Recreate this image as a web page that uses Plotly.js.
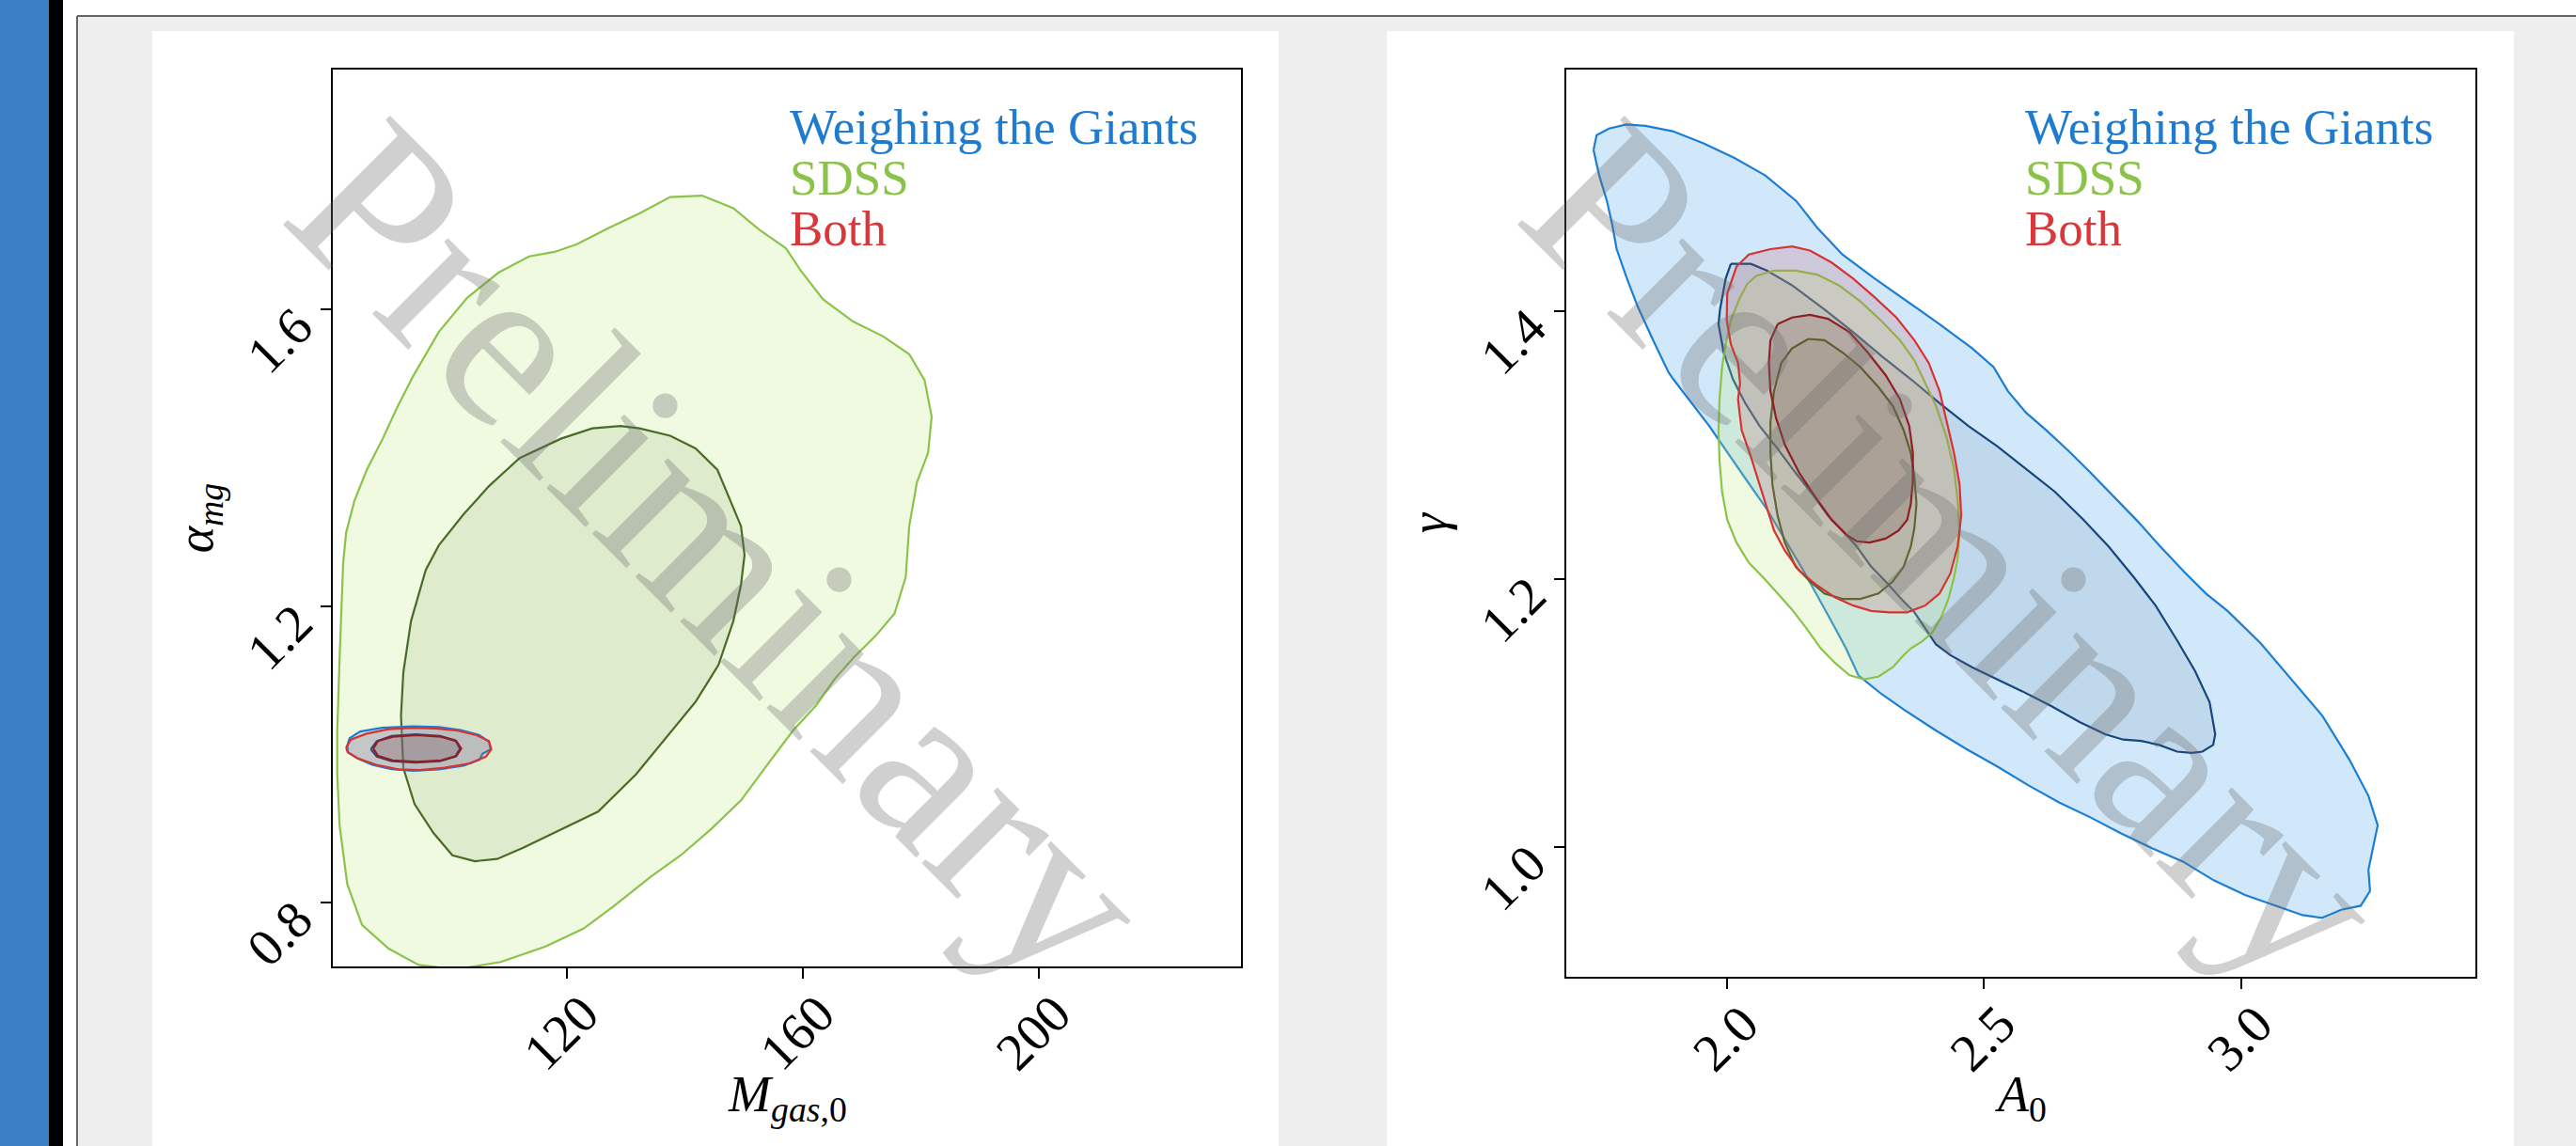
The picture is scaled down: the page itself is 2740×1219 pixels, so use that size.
<!DOCTYPE html>
<html><head><meta charset="utf-8">
<script src="https://cdn.plot.ly/plotly-3.0.1.min.js"></script>
<style>html,body{margin:0;padding:0;background:#fff;overflow:hidden}#chart{width:2740px;height:1219px}</style>
</head><body><div id="chart"></div>
<script>
// ---------------- LEFT PANEL: M_gas,0 vs alpha_mg ----------------
const sdssOuterMgas  = [81.1,81.1,81.5,82.0,82.1,82.6,84.0,86.1,88.8,91.3,94.0,98.3,103.1,108.4,113.6,117.9,121.6,127.0,132.3,137.5,142.9,148.2,152.6,157.1,159.6,163.4,168.5,173.6,178.0,180.6,181.8,181.2,179.3,178.0,177.4,175.5,172.3,168.5,165.3,162.2,158.3,154.5,149.5,144.4,139.3,134.2,127.9,122.8,116.4,108.8,101.2,94.9,89.8,85.3,82.8,81.5,81.1];
const sdssOuterAlpha = [0.973,1.032,1.130,1.229,1.258,1.299,1.342,1.384,1.426,1.469,1.511,1.570,1.616,1.650,1.672,1.678,1.688,1.710,1.730,1.752,1.754,1.737,1.708,1.683,1.653,1.614,1.584,1.564,1.540,1.505,1.456,1.407,1.367,1.308,1.239,1.190,1.160,1.130,1.101,1.066,1.032,0.992,0.938,0.899,0.864,0.835,0.795,0.765,0.741,0.720,0.710,0.716,0.738,0.770,0.825,0.904,0.973];
const sdssInnerMgas  = [91.9,92.3,93.6,96.1,98.3,102.5,106.8,112.0,119.0,124.3,129.1,132.3,137.5,141.8,145.5,146.9,149.5,150.1,149.5,148.2,145.7,141.8,136.8,131.7,125.3,119.0,112.6,108.2,104.4,100.6,97.4,94.2,92.3,91.9];
const sdssInnerAlpha = [1.052,1.111,1.180,1.249,1.282,1.324,1.362,1.400,1.426,1.440,1.443,1.440,1.430,1.413,1.384,1.357,1.308,1.269,1.229,1.180,1.121,1.071,1.022,0.973,0.923,0.899,0.874,0.859,0.856,0.864,0.894,0.933,0.982,1.052];
const wtgOuterMgas   = [82.8,83.2,85.0,88.7,94.0,98.3,102.0,105.2,106.8,107.1,105.7,105.2,102.5,98.3,94.0,90.3,87.0,84.5,82.9,82.8];
const wtgOuterAlpha  = [1.012,1.022,1.031,1.036,1.038,1.037,1.033,1.026,1.017,1.007,1.001,0.993,0.985,0.980,0.978,0.980,0.986,0.995,1.003,1.012];
const wtgInnerMgas   = [86.8,87.8,90.3,94.4,98.5,101.1,101.9,101.1,98.5,94.4,90.3,87.8,86.8];
const wtgInnerAlpha  = [1.007,1.018,1.025,1.027,1.025,1.019,1.008,0.997,0.991,0.989,0.991,0.997,1.007];
const bothOuterMgas  = [82.6,83.4,86.1,89.8,94.0,97.8,101.5,104.7,106.8,107.2,106.3,103.6,99.3,95.1,91.4,87.7,84.5,82.9,82.6];
const bothOuterAlpha = [1.009,1.020,1.028,1.034,1.036,1.035,1.032,1.026,1.018,1.007,0.997,0.988,0.982,0.979,0.980,0.986,0.995,1.003,1.009];
const bothInnerMgas  = [87.2,88.0,90.5,94.6,98.7,101.3,102.1,101.3,98.7,94.6,90.5,88.0,87.2];
const bothInnerAlpha = [1.008,1.018,1.024,1.026,1.024,1.018,1.008,0.998,0.992,0.990,0.992,0.998,1.008];

// ---------------- RIGHT PANEL: A_0 vs gamma ----------------
const wtgOuterA0    = [1.741,1.747,1.771,1.805,1.842,1.895,1.955,2.015,2.075,2.135,2.176,2.225,2.288,2.351,2.414,2.477,2.519,2.547,2.582,2.624,2.666,2.708,2.757,2.799,2.841,2.890,2.932,2.974,3.038,3.098,3.158,3.211,3.248,3.266,3.256,3.248,3.251,3.233,3.195,3.158,3.120,3.068,3.008,2.947,2.887,2.827,2.767,2.707,2.647,2.586,2.526,2.466,2.406,2.346,2.301,2.256,2.232,2.204,2.176,2.148,2.106,2.078,2.036,1.966,1.896,1.887,1.857,1.827,1.805,1.786,1.777,1.767,1.752,1.741];
const wtgOuterGamma = [1.520,1.531,1.536,1.539,1.538,1.534,1.525,1.514,1.501,1.482,1.462,1.442,1.424,1.407,1.390,1.372,1.358,1.340,1.324,1.310,1.295,1.279,1.260,1.243,1.225,1.205,1.189,1.176,1.152,1.125,1.098,1.065,1.038,1.016,0.997,0.983,0.967,0.956,0.953,0.947,0.949,0.956,0.964,0.975,0.989,0.999,1.010,1.022,1.033,1.046,1.060,1.073,1.087,1.102,1.114,1.128,1.148,1.168,1.188,1.207,1.234,1.252,1.275,1.314,1.349,1.354,1.378,1.403,1.425,1.446,1.465,1.482,1.501,1.520];
const wtgInnerA0    = [2.008,2.047,2.078,2.127,2.190,2.246,2.302,2.358,2.414,2.470,2.526,2.582,2.638,2.694,2.743,2.792,2.834,2.876,2.911,2.939,2.950,2.946,2.925,2.904,2.876,2.841,2.806,2.771,2.736,2.687,2.631,2.575,2.526,2.477,2.435,2.407,2.386,2.365,2.337,2.309,2.281,2.253,2.225,2.197,2.169,2.134,2.099,2.064,2.036,2.012,1.994,1.984,1.987,1.998,2.008];
const wtgInnerGamma = [1.435,1.435,1.430,1.419,1.401,1.384,1.366,1.349,1.331,1.314,1.299,1.282,1.265,1.244,1.224,1.201,1.180,1.154,1.131,1.108,1.084,1.076,1.071,1.070,1.071,1.076,1.079,1.080,1.084,1.093,1.105,1.116,1.125,1.134,1.143,1.151,1.163,1.175,1.186,1.198,1.209,1.224,1.236,1.247,1.262,1.279,1.297,1.314,1.331,1.349,1.369,1.390,1.401,1.424,1.435];
const sdssOuterA0    = [2.057,2.092,2.134,2.176,2.218,2.260,2.302,2.337,2.365,2.386,2.407,2.428,2.442,2.449,2.453,2.449,2.442,2.432,2.418,2.400,2.379,2.358,2.344,2.323,2.295,2.267,2.239,2.211,2.183,2.155,2.127,2.099,2.071,2.043,2.019,2.001,1.991,1.986,1.984,1.986,1.991,1.998,2.008,2.026,2.040,2.057];
const sdssOuterGamma = [1.426,1.430,1.430,1.427,1.419,1.407,1.392,1.378,1.363,1.346,1.329,1.305,1.282,1.259,1.236,1.215,1.201,1.186,1.172,1.160,1.153,1.148,1.143,1.134,1.127,1.125,1.128,1.137,1.148,1.163,1.177,1.189,1.201,1.212,1.227,1.244,1.265,1.288,1.311,1.334,1.358,1.375,1.393,1.410,1.420,1.426];
const sdssInnerA0    = [2.159,2.190,2.225,2.260,2.295,2.323,2.344,2.358,2.365,2.369,2.365,2.358,2.344,2.323,2.295,2.260,2.225,2.190,2.162,2.134,2.113,2.099,2.089,2.085,2.085,2.092,2.106,2.127,2.159];
const sdssInnerGamma = [1.379,1.378,1.369,1.358,1.343,1.329,1.311,1.294,1.276,1.256,1.238,1.224,1.209,1.198,1.189,1.185,1.185,1.189,1.198,1.209,1.227,1.247,1.270,1.294,1.317,1.340,1.361,1.372,1.379];
const bothOuterA0    = [2.001,2.019,2.043,2.085,2.127,2.162,2.204,2.246,2.288,2.330,2.365,2.393,2.414,2.428,2.442,2.453,2.456,2.449,2.435,2.414,2.386,2.351,2.316,2.281,2.246,2.211,2.176,2.141,2.113,2.092,2.078,2.064,2.047,2.029,2.022,2.026,2.022,2.008,2.000,2.001];
const bothOuterGamma = [1.413,1.433,1.442,1.446,1.448,1.445,1.436,1.424,1.410,1.395,1.378,1.361,1.340,1.317,1.294,1.270,1.247,1.224,1.204,1.189,1.180,1.175,1.175,1.176,1.180,1.186,1.195,1.206,1.221,1.236,1.253,1.270,1.291,1.311,1.334,1.346,1.361,1.375,1.393,1.413];
const bothInnerA0    = [2.099,2.127,2.162,2.197,2.239,2.274,2.309,2.337,2.355,2.362,2.362,2.358,2.351,2.334,2.309,2.278,2.253,2.232,2.204,2.176,2.141,2.113,2.096,2.085,2.082,2.085,2.099];
const bothInnerGamma = [1.390,1.395,1.397,1.394,1.384,1.369,1.352,1.334,1.314,1.294,1.273,1.256,1.244,1.236,1.230,1.227,1.228,1.233,1.244,1.259,1.279,1.300,1.320,1.340,1.361,1.378,1.390];

// ---------------- ticks / labels ----------------
const mgasTicks  = [120, 160, 200];
const alphaTicks = [0.8, 1.2, 1.6];
const a0Ticks    = [2.0, 2.5, 3.0];
const gammaTicks = [1.0, 1.2, 1.4];
const seriesNames = ['Weighing the Giants', 'SDSS', 'Both'];
const xTitles = ['<i>M</i><sub><i>gas</i>,0</sub>', '<i>A</i><sub>0</sub>'];

// ---------------- styles ----------------
const C = {
  wtgLine:'#1b7ed4', wtgInLine:'#16457f', wtgFill:'rgba(100,180,240,0.30)', wtgInFill:'rgba(60,80,110,0.10)',
  sdssLine:'#8bc34a', sdssInLine:'#4a6b28', sdssFill:'rgba(190,235,130,0.25)', sdssInFill:'rgba(74,107,40,0.10)',
  bothLine:'#d63333', bothInLine:'#8f1f25', bothFill:'rgba(200,80,90,0.20)', bothInFill:'rgba(110,40,40,0.15)'
};
const legendColors = ['#1f7bd0', '#8bc34a', '#d9373a'];
const SERIF = 'Liberation Serif, Times New Roman, serif';

function contour(x, y, xa, ya, line, fill) {
  return {type:'scatter', mode:'lines', x:x, y:y, xaxis:xa, yaxis:ya, fill:'toself',
          fillcolor:fill, line:{color:line, width:2.2}, hoverinfo:'skip', showlegend:false};
}

const traces = [
  contour(sdssOuterMgas, sdssOuterAlpha, 'x', 'y', C.sdssLine, C.sdssFill),
  contour(sdssInnerMgas, sdssInnerAlpha, 'x', 'y', C.sdssInLine, C.sdssInFill),
  contour(wtgOuterMgas, wtgOuterAlpha, 'x', 'y', C.wtgLine, C.wtgFill),
  contour(wtgInnerMgas, wtgInnerAlpha, 'x', 'y', C.wtgInLine, C.wtgInFill),
  contour(bothOuterMgas, bothOuterAlpha, 'x', 'y', C.bothLine, C.bothFill),
  contour(bothInnerMgas, bothInnerAlpha, 'x', 'y', C.bothInLine, C.bothInFill),

  contour(wtgOuterA0, wtgOuterGamma, 'x2', 'y2', C.wtgLine, C.wtgFill),
  contour(wtgInnerA0, wtgInnerGamma, 'x2', 'y2', C.wtgInLine, C.wtgInFill),
  contour(sdssOuterA0, sdssOuterGamma, 'x2', 'y2', C.sdssLine, C.sdssFill),
  contour(sdssInnerA0, sdssInnerGamma, 'x2', 'y2', C.sdssInLine, C.sdssInFill),
  contour(bothOuterA0, bothOuterGamma, 'x2', 'y2', C.bothLine, C.bothFill),
  contour(bothInnerA0, bothInnerGamma, 'x2', 'y2', C.bothInLine, C.bothInFill)
];

const W = 2740, H = 1219;
const px = v => v / W, py = v => 1 - v / H;

function axisStyle(extra) {
  return Object.assign({
    showline:true, linecolor:'#000', linewidth:2, mirror:true,
    ticks:'outside', ticklen:11, tickwidth:2, tickcolor:'#000',
    showgrid:false, zeroline:false, tickangle:-45,
    tickfont:{family:SERIF, size:56, color:'#000'}, fixedrange:true
  }, extra);
}
const xTickStyle = {ticklabelshift:17, ticklabelstandoff:-18};
const yTickStyle = {ticklabelshift:10, ticklabelstandoff:14};

const layout = {
  width:W, height:H, margin:{l:0, r:0, t:0, b:0},
  paper_bgcolor:'#ffffff', plot_bgcolor:'#ffffff', showlegend:false, hovermode:false,
  xaxis: axisStyle(Object.assign({domain:[px(354), px(1320)], range:[80.35, 234.2], anchor:'y', tickvals:mgasTicks}, xTickStyle)),
  yaxis: axisStyle(Object.assign({domain:[py(1028), py(74)], range:[0.714, 1.924], anchor:'x', tickvals:alphaTicks, tickformat:'.1f',
    title:{text:'<i>α</i><sub><i>mg</i></sub>', font:{family:SERIF, size:54, color:'#000'}, standoff:7}}, yTickStyle)),
  xaxis2: axisStyle(Object.assign({domain:[px(1666), px(2633)], range:[1.688, 3.456], anchor:'y2', tickvals:a0Ticks, tickformat:'.1f'}, xTickStyle)),
  yaxis2: axisStyle(Object.assign({domain:[py(1039), py(74)], range:[0.903, 1.580], anchor:'x2', tickvals:gammaTicks, tickformat:'.1f',
    title:{text:'<i>γ</i>', font:{family:SERIF, size:54, color:'#000'}, standoff:7}}, yTickStyle)),
  shapes: [
    {type:'rect', xref:'paper', yref:'paper', x0:0, x1:px(52), y0:0, y1:1, fillcolor:'#3d7fc4', line:{width:0}, layer:'below'},
    {type:'rect', xref:'paper', yref:'paper', x0:px(52), x1:px(67), y0:0, y1:1, fillcolor:'#000000', line:{width:0}, layer:'below'},
    {type:'rect', xref:'paper', yref:'paper', x0:px(83), x1:1, y0:0, y1:py(18), fillcolor:'#eeeeee', line:{width:0}, layer:'below'},
    {type:'line', xref:'paper', yref:'paper', x0:px(82), x1:px(82), y0:0, y1:py(17), line:{color:'#666', width:2}, layer:'below'},
    {type:'line', xref:'paper', yref:'paper', x0:px(82), x1:1, y0:py(17), y1:py(17), line:{color:'#666', width:2}, layer:'below'},
    {type:'rect', xref:'paper', yref:'paper', x0:px(162), x1:px(1360), y0:0, y1:py(33), fillcolor:'#ffffff', line:{width:0}, layer:'below'},
    {type:'rect', xref:'paper', yref:'paper', x0:px(1475), x1:px(2674), y0:0, y1:py(33), fillcolor:'#ffffff', line:{width:0}, layer:'below'}
  ],
  annotations: []
};

// x-axis titles (placed directly under the tick labels)
['x domain', 'x2 domain'].forEach(function(ref, i){
  layout.annotations.push({xref:ref, yref:'paper', x:0.5, y:py(1167), xanchor:'center', yanchor:'middle',
    text:xTitles[i], showarrow:false, font:{family:SERIF, size:54, color:'#000'}});
});
// legend-like labels inside each panel
const legendY = [135, 189, 243];
[px(838), px(2152)].forEach(function(lx){
  seriesNames.forEach(function(name, i){
    layout.annotations.push({xref:'paper', yref:'paper', x:lx, y:py(legendY[i]), xanchor:'left', yanchor:'middle',
      text:name, showarrow:false, font:{family:SERIF, size:53, color:legendColors[i]}});
  });
});
// watermark
[px(768), px(2081)].forEach(function(wx){
  layout.annotations.push({xref:'paper', yref:'paper', x:wx, y:py(587), xanchor:'center', yanchor:'middle',
    text:'Preliminary', textangle:45, showarrow:false,
    font:{family:SERIF, size:248, color:'rgba(110,110,110,0.32)'}});
});

Plotly.newPlot('chart', traces, layout, {staticPlot:true, displayModeBar:false});
</script></body></html>
